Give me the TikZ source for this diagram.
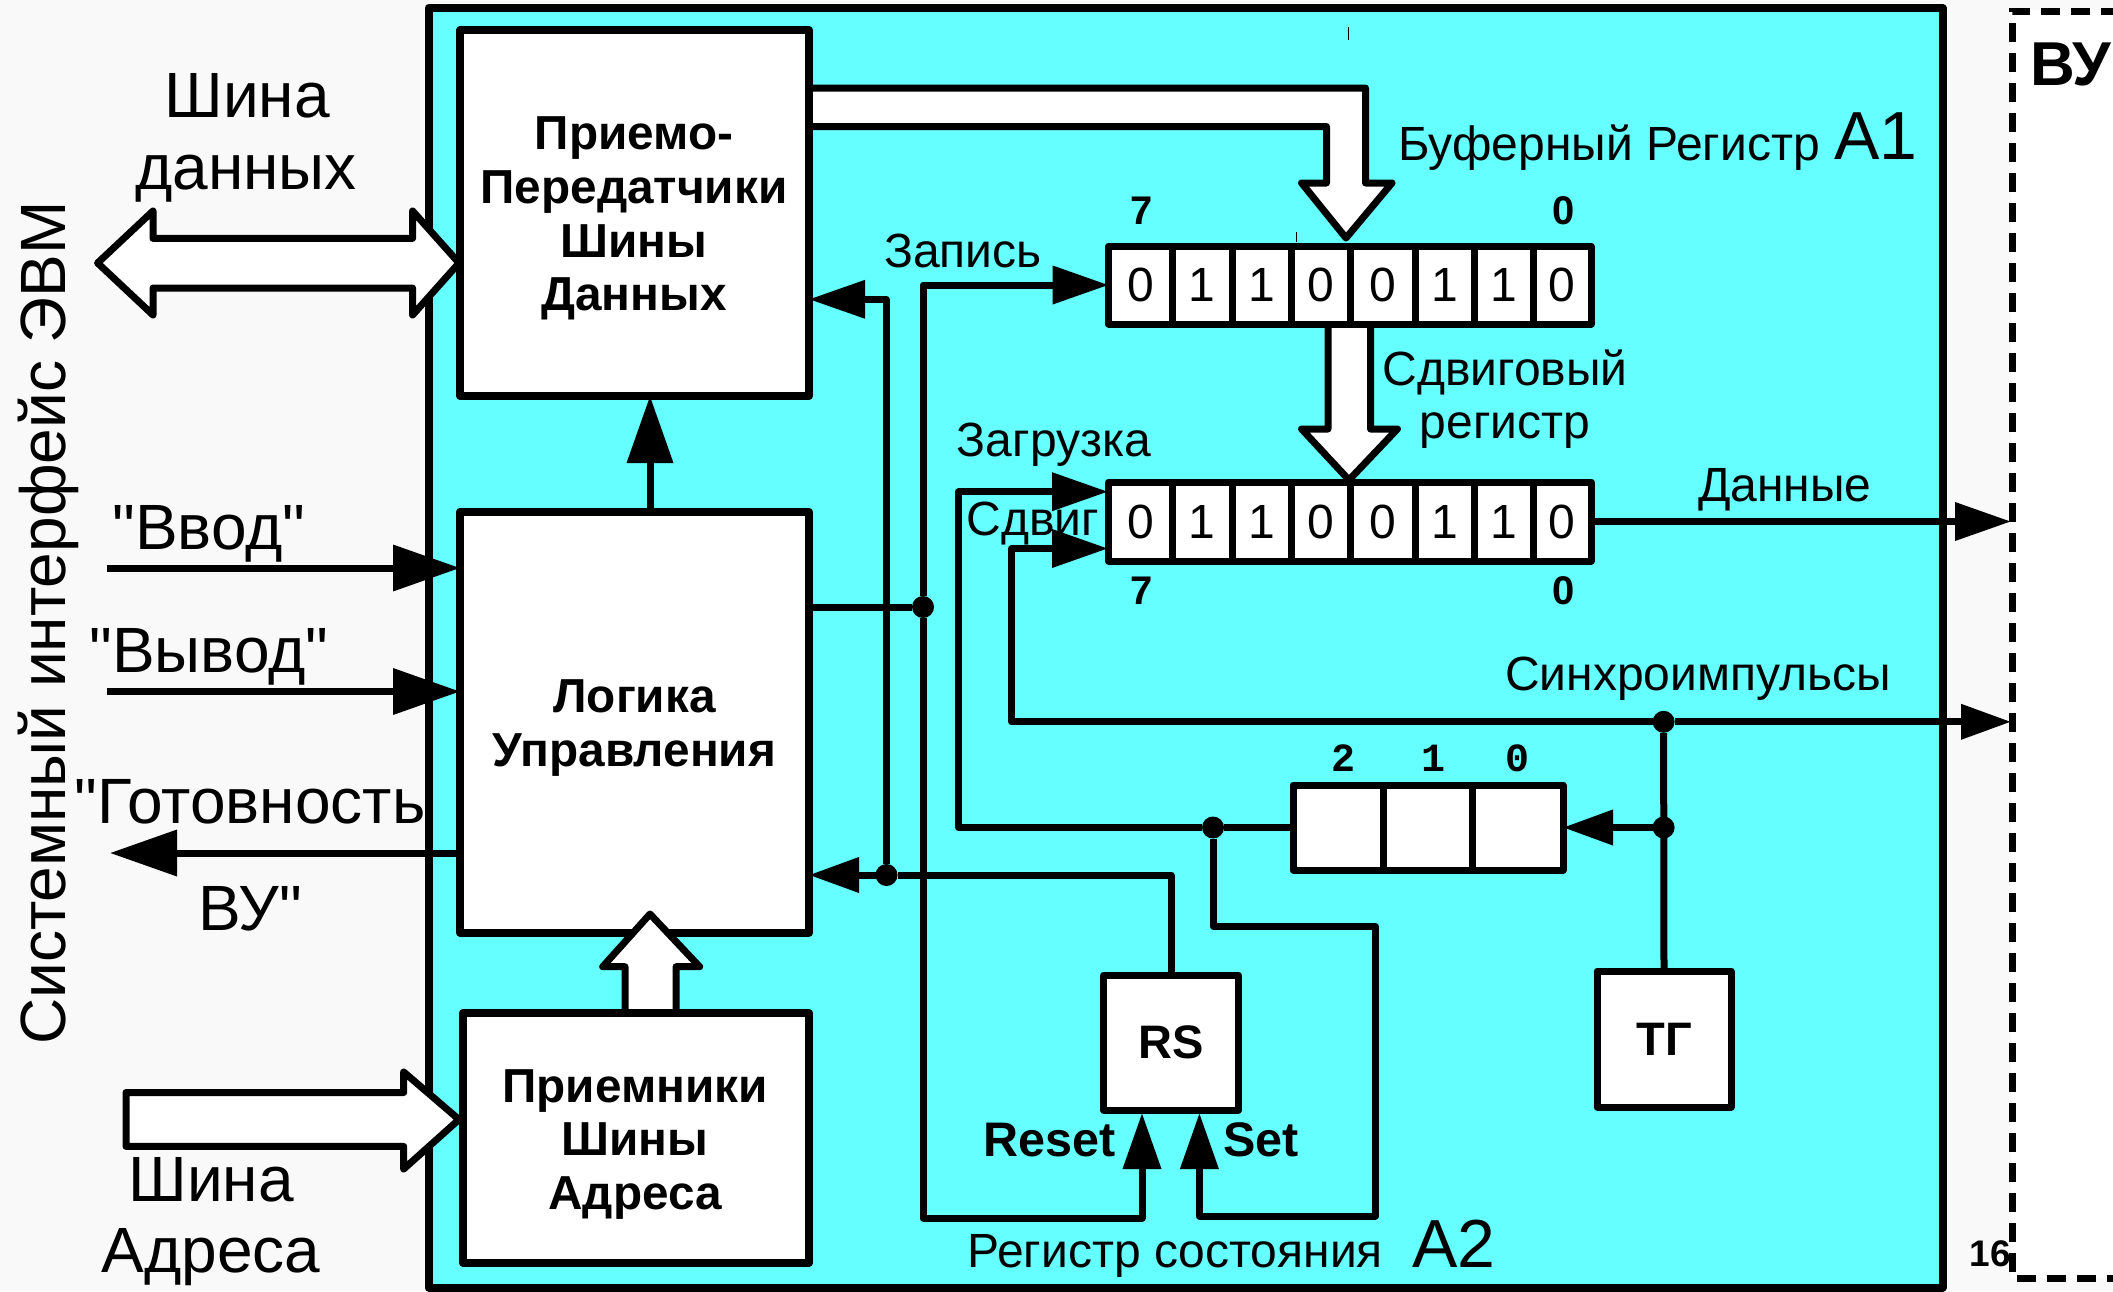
\documentclass[tikz,border=0pt]{standalone}
\usepackage{fontspec}
\setmainfont{Liberation Sans}
\newfontfamily\monobf{Liberation Mono}[BoldFont={Liberation Mono Bold}]
\newfontfamily\plainf{Liberation Sans}
\newcommand\qmark{{\plainf"}}
\usetikzlibrary{arrows.meta}
\definecolor{cyanbg}{HTML}{66FFFF}
\definecolor{pagebg}{HTML}{F9F9F9}
\newcommand\fsz[2]{\fontsize{#1}{#2}\selectfont}
\tikzset{
  box/.style={draw=black,fill=white,line width=8pt,line join=round,inner sep=0pt,outer sep=0pt},
  boxtext/.style={inner sep=0pt,outer sep=0pt,align=center,font=\bfseries\fsz{47.7}{53.7}},
  cell/.style={draw=black,fill=white,line width=7pt,line join=round,inner sep=0pt,outer sep=0pt,font=\fsz{48}{48}},
  lab/.style={anchor=base,inner sep=0pt,outer sep=0pt,font=\fsz{48}{48}},
  big/.style={anchor=base,inner sep=0pt,outer sep=0pt,font=\fsz{64}{64}},
  huge2/.style={anchor=base,inner sep=0pt,outer sep=0pt,font=\fsz{68}{68}},
  num/.style={anchor=base,inner sep=0pt,outer sep=0pt,font=\bfseries\fsz{40}{40}},
  mono/.style={anchor=base,inner sep=0pt,outer sep=0pt,font=\monobf\bfseries\fsz{40}{40}},
  blab/.style={anchor=base,inner sep=0pt,outer sep=0pt,font=\bfseries\fsz{48.5}{48.5}},
  dot/.style={circle,fill=black,inner sep=0pt,outer sep=0pt,minimum size=22pt},
  wire/.style={draw=black,line width=7pt,line join=round},
  tipA/.style={-{Triangle[length=56pt,width=37pt]}},
  tipB/.style={-{Triangle[length=67pt,width=45pt]}},
  tipC/.style={-{Triangle[length=50pt,width=34pt]}},
  busarrow/.style={draw=black,fill=white,line width=7pt,line join=round},
}
\begin{document}
\begin{tikzpicture}[x=1pt,y=-1pt]
\useasboundingbox (0,0) rectangle (2113,1291);
\fill[pagebg] (0,0) rectangle (2113,1291);
\fill[white] (2011,10.4) rectangle (2113,1278.4);
\draw[draw=black,fill=cyanbg,line width=8pt,line join=round] (428.6,8) rectangle (1942.5,1287.6);
\draw[black,line width=7pt,dash pattern=on 19pt off 11pt] (2150,11) -- (2012,11) -- (2012,1278.4) -- (2150,1278.4);
\draw[black,line width=1pt] (1348,27) -- (1348,40);
\draw[black,line width=1pt] (1296,232) -- (1296,242);

% wide arrow from the transceivers to the buffer register (under the blocks)
\coordinate (tipA) at (1346,238);
\draw[busarrow] (800,88) -- (1365.5,88) -- (1365.5,183) -- (1392,183) -- (tipA) -- (1301.6,183) -- (1326.5,183) -- (1326.5,126.5) -- (800,126.5);

% main blocks
\node[box,minimum width=349pt,minimum height=366pt] (tr) at (634.5,213) {};
\node[box,minimum width=349pt,minimum height=421pt] (logic) at (634.5,722) {};
\coordinate (upTip) at (650,914);
\draw[busarrow] (625,1020) -- (625,966.7) -- (602.7,966.7) -- (upTip) -- (699.6,966.7) -- (676,966.7) -- (676,1020);
\node[box,minimum width=346pt,minimum height=250pt] (rcv) at (636,1138) {};
\node[boxtext] (trt) at (634,218.5) {Приемо-\\Передатчики\\Шины\\Данных};
\node[boxtext] (logict) at (634.5,728) {Логика\\Управления};
\node[boxtext] (rcvt) at (635,1144.5) {Приемники\\Шины\\Адреса};
\node[box,line width=7pt,font=\bfseries\fsz{47}{47},minimum width=135pt,minimum height=135pt] (rs) at (1171,1042.5) {RS};
\node[box,line width=7pt,font=\bfseries\fsz{47}{47},minimum width=134pt,minimum height=136pt] (tg) at (1664,1039) {ТГ};

% wide arrows
\coordinate (busL) at (97.6,263);
\coordinate (busR) at (459,263);
\draw[busarrow] (busL) -- (153,211) -- (153,238.4) -- (412.6,238.4) -- (412.6,211) -- (busR) -- (412.6,315) -- (412.6,288) -- (153,288) -- (153,315) -- cycle;
\coordinate (adrR) at (459,1119.5);
\draw[busarrow] (126,1092.5) -- (403.7,1092.5) -- (403.7,1072) -- (adrR) -- (403.7,1169) -- (403.7,1146.4) -- (126,1146.4) -- cycle;

% registers
\foreach \n/\l/\r/\d in {1/1108.6/1172.5/0,2/1172.5/1232/1,3/1232/1291/1,4/1291/1350/0,5/1350/1415/0,6/1415/1474/1,7/1474/1533/1,8/1533/1591/0}{
  \node[cell,minimum width={(\r-\l)*1pt},minimum height=78pt] (a\n) at ({(\l+\r)/2},285) {\d};
  \node[cell,minimum width={(\r-\l)*1pt},minimum height=79pt] (b\n) at ({(\l+\r)/2},521.5) {\d};
}
\foreach \n/\l/\r in {2/1293/1383,1/1383/1472,0/1472/1563}{
  \node[cell,minimum width={(\r-\l)*1pt},minimum height=85pt] (c\n) at ({(\l+\r)/2},827.5) {};
}

\coordinate (tipB) at (1349,480);
\draw[busarrow] (1328,328) -- (1328,429) -- (1301.6,429) -- (tipB) -- (1397.4,429) -- (1370.5,429) -- (1370.5,328);

% junctions
\node[dot] (j1) at (923,607) {};
\node[dot] (j3) at (1213,827.5) {};
\node[dot] (j4) at (1663.6,721.8) {};
\node[dot] (j5) at (1663.6,827.5) {};
\node[dot] (j6) at (886.5,875) {};
\coordinate (wBot) at (923,1218);
\coordinate (rsR) at (1142,1113);
\coordinate (rsS) at (1199.4,1113);
\coordinate (setA) at (1213,926.4);
\coordinate (setB) at (1375.4,926.4);
\coordinate (setC) at (1375.4,1216);
\coordinate (loadC) at (958.5,827.5);
\coordinate (loadT) at (1108,491.7);
\coordinate (shT) at (1108,548.5);
\coordinate (shC) at (1011.4,721.8);
\coordinate (syncOut) at (2011,721.8);
\coordinate (dataOut) at (2011,521.5);
\coordinate (inV) at (107,568);
\coordinate (outV) at (107,691.5);
\coordinate (rdy) at (110,853);
\coordinate (lgUp) at (650,511.6);

% connectors
\draw[wire] (logic.east |- j1) -- (j1);
\draw[wire,tipA] (j1) |- (a1.west);
\draw[wire,tipA] (j1) -- (wBot) -| (rsR);
\draw[wire,tipA] (j3) -- (setA) -- (setB) -- (setC) -| (rsS);
\draw[wire] (c2.west) -- (j3);
\draw[wire,tipA] (j3) -- (loadC) |- (loadT);
\draw[wire,tipA] (j4) -- (shC) |- (shT);
\draw[wire,tipC] (j4) -- (syncOut);
\draw[wire,tipA] (b8.east) -- (dataOut);
\draw[wire] (tg.north) -- (j4);
\draw[wire,tipC] (j5) -- (c0.east);
\draw[wire] (rs.north) |- (j6);
\draw[wire,tipC] (j6) -- (logic.east |- j6);
\draw[wire,line width=6.5pt,tipA] (j6) |- (tr.east |- 0,299.3);
\draw[wire,tipB] (lgUp) -- (lgUp |- tr.south);
\draw[wire,tipB] (inV) -- (logic.west |- inV);
\draw[wire,tipB] (outV) -- (logic.west |- outV);
\draw[wire,tipB] (logic.west |- rdy) -- (rdy);

% labels
\node[big,rotate=90] (sys) at (65.5,623) {Системный интерфейс ЭВМ};
\node[big] (l1) at (247,117.5) {Шина};
\node[big] (l2) at (246,189) {данных};
\node[big] (l3) at (209,549) {\qmark Ввод\qmark};
\node[big] (l4) at (209,672) {\qmark Вывод\qmark};
\node[big] (l5) at (250,823) {\qmark Готовность};
\node[big] (l6) at (250,930.5) {ВУ\qmark};
\node[big] (l7) at (211,1201.5) {Шина};
\node[big] (l8) at (211,1272.5) {Адреса};
\node[lab] (l9) at (963,267) {Запись};
\node[lab] (l10) at (1054,456.5) {Загрузка};
\node[lab] (l11) at (1033,535.5) {Сдвиг};
\node[lab] (l12) at (1609,160) {Буферный Регистр};
\node[huge2] (l13) at (1876,159.5) {A1};
\node[lab] (l14) at (1505,385) {Сдвиговый};
\node[lab] (l15) at (1505,438) {регистр};
\node[lab] (l16) at (1785,501.5) {Данные};
\node[lab] (l17) at (1698,690) {Синхроимпульсы};
\node[lab] (l18) at (1175,1267.5) {Регистр состояния};
\node[huge2] (l19) at (1454,1267) {A2};
\node[blab] (l20) at (1050,1156) {Reset};
\node[blab] (l21) at (1261,1156) {Set};
\node[num] (n1) at (1142,224.5) {7};
\node[num] (n2) at (1563.5,224.5) {0};
\node[num] (n3) at (1142,604.5) {7};
\node[num] (n4) at (1563.5,604.5) {0};
\node[mono] (n5) at (1343,771) {2};
\node[mono] (n6) at (1433.6,771) {1};
\node[mono] (n7) at (1517,771) {0};
\node[anchor=base,inner sep=0pt,font=\bfseries\fsz{37}{37}] (n8) at (1990,1266) {16};
\node[anchor=base west,inner sep=0pt,font=\bfseries\fsz{62}{62}] (vu) at (2030,85) {ВУ};
\end{tikzpicture}
\end{document}
